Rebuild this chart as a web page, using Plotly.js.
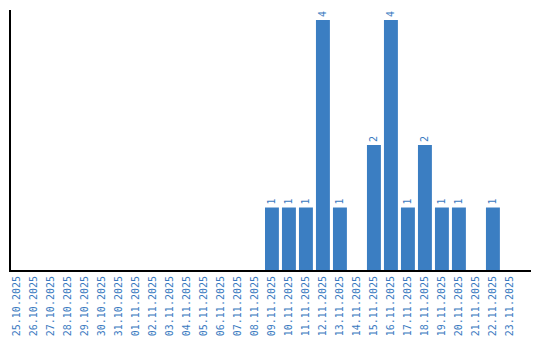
<!DOCTYPE html>
<html><head><meta charset="utf-8">
<script src="https://cdn.plot.ly/plotly-3.0.1.min.js"></script>
<style>html,body{margin:0;padding:0;background:#fff}#c{width:540px;height:340px}</style>
</head><body><div id="c"></div>
<script>
const dates = ["25.10.2025","26.10.2025","27.10.2025","28.10.2025","29.10.2025","30.10.2025","31.10.2025","01.11.2025","02.11.2025","03.11.2025","04.11.2025","05.11.2025","06.11.2025","07.11.2025","08.11.2025","09.11.2025","10.11.2025","11.11.2025","12.11.2025","13.11.2025","14.11.2025","15.11.2025","16.11.2025","17.11.2025","18.11.2025","19.11.2025","20.11.2025","21.11.2025","22.11.2025","23.11.2025"];
const counts = [0,0,0,0,0,0,0,0,0,0,0,0,0,0,0,1,1,1,4,1,0,2,4,1,2,1,1,0,1,0];
const labels = counts.map(v => v > 0 ? String(v) : "");
const blue = "#3b7ec2";
const font = "DejaVu Sans Mono, monospace";
Plotly.newPlot("c", [{
  type: "bar", x: dates, y: counts, text: labels,
  textposition: "outside", textangle: -90, cliponaxis: false,
  textfont: {family: font, size: 10, color: "#3a7abf"},
  marker: {color: blue}, hoverinfo: "none"
}], {
  width: 540, height: 340,
  margin: {l: 11, r: 9, t: 10, b: 70, pad: 0},
  paper_bgcolor: "#fff", plot_bgcolor: "#fff",
  bargap: 0.18, showlegend: false,
  xaxis: {type: "category", range: [-0.35, 30.24], showline: true, linecolor: "#000", linewidth: 2,
    showgrid: false, zeroline: false, ticks: "", tickangle: -90,
    tickfont: {family: font, size: 10, color: "#3a7abf"}, fixedrange: true},
  yaxis: {range: [0, 4.16], showline: true, linecolor: "#000", linewidth: 2, showgrid: false,
    zeroline: false, showticklabels: false, ticks: "", fixedrange: true}
}, {staticPlot: true});
</script></body></html>
